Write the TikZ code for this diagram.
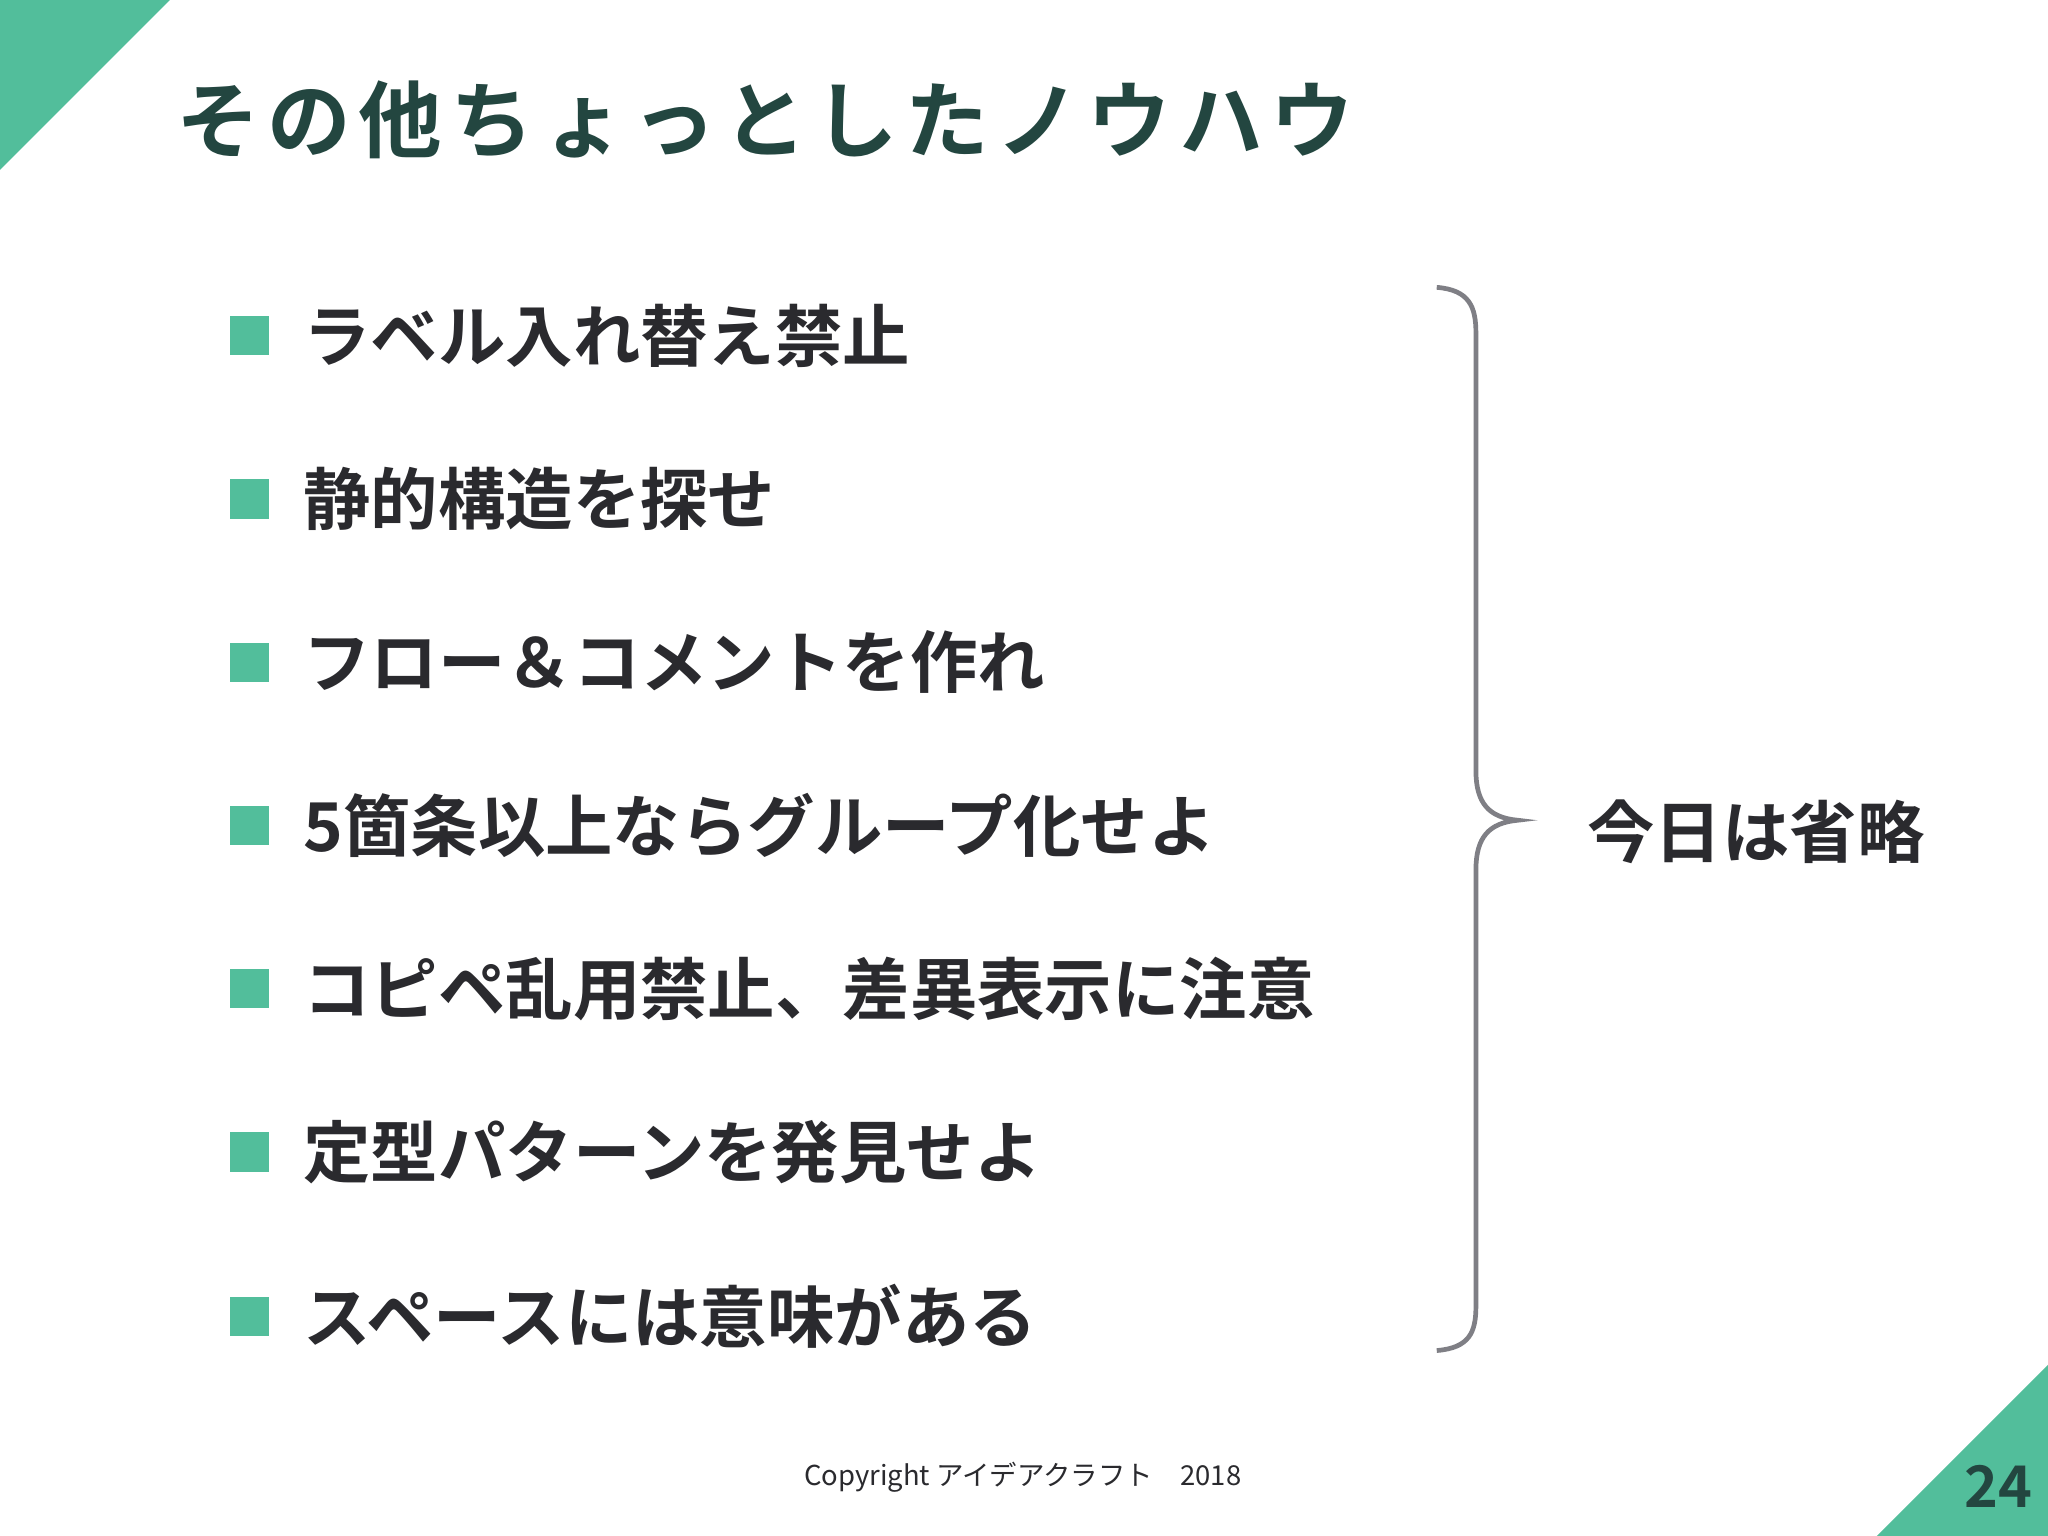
\documentclass[tikz,border=0pt]{standalone}
\usepackage{fontspec}
\newfontfamily\jp{Noto Sans CJK JP}[BoldFont={* Bold}]
\newfontfamily\jpt{Noto Sans CJK JP}[BoldFont={* Bold},LetterSpace=9]
\definecolor{grn}{HTML}{52BE9B}
\definecolor{ttl}{HTML}{234640}
\definecolor{txt}{HTML}{2A2A2E}
\definecolor{brc}{HTML}{7F7F85}
\begin{document}
\begin{tikzpicture}[x=0.5pt,y=-0.5pt,
  bul/.style={fill=grn,minimum size=15pt,inner sep=0pt},
  item/.style={anchor=west,inner sep=0pt,font=\jp\bfseries\fontsize{25.8}{30}\selectfont,text=txt}]
\useasboundingbox (0,0) rectangle (1568,1176);
\fill[white] (0,0) rectangle (1568,1176);
\fill[grn] (0,0) -- (130,0) -- (0,130) -- cycle;
\fill[grn] (1568,1045) -- (1568,1176) -- (1437,1176) -- cycle;
\node[anchor=west,inner sep=0pt,text=ttl,font=\jpt\bfseries\fontsize{32}{38}\selectfont] (title) at (135,92) {その他ちょっとしたノウハウ};
\foreach \i/\y/\t in {1/257/ラベル入れ替え禁止,2/382/静的構造を探せ,3/507/フロー＆コメントを作れ,4/632/5箇条以上ならグループ化せよ,5/757/コピペ乱用禁止、差異表示に注意,6/882/定型パターンを発見せよ,7/1008/スペースには意味がある}{
  \node[bul] (b\i) at (191,\y) {};
  \node[item] (t\i) at (232,\y) {\t};
}
\draw[brc,line width=1.8pt] (1100,220) .. controls (1125,222) and (1130,235) .. (1130,255) -- (1130,590) .. controls (1130,615) and (1140,626) .. (1162,628) .. controls (1140,630) and (1130,641) .. (1130,666) -- (1130,1000) .. controls (1130,1020) and (1125,1032) .. (1100,1034);
\node[anchor=west,inner sep=0pt,text=txt,font=\jp\bfseries\fontsize{25.8}{30}\selectfont] (omit) at (1215,637) {今日は省略};
\node[inner sep=0pt,text=txt,font=\jp\fontsize{10.5}{12}\selectfont] (copy) at (783,1131) {Copyright アイデアクラフト\quad 2018};
\node[inner sep=0pt,text=ttl,font=\jp\bfseries\fontsize{22}{26}\selectfont] (page) at (1530,1138) {24};
\end{tikzpicture}
\end{document}
